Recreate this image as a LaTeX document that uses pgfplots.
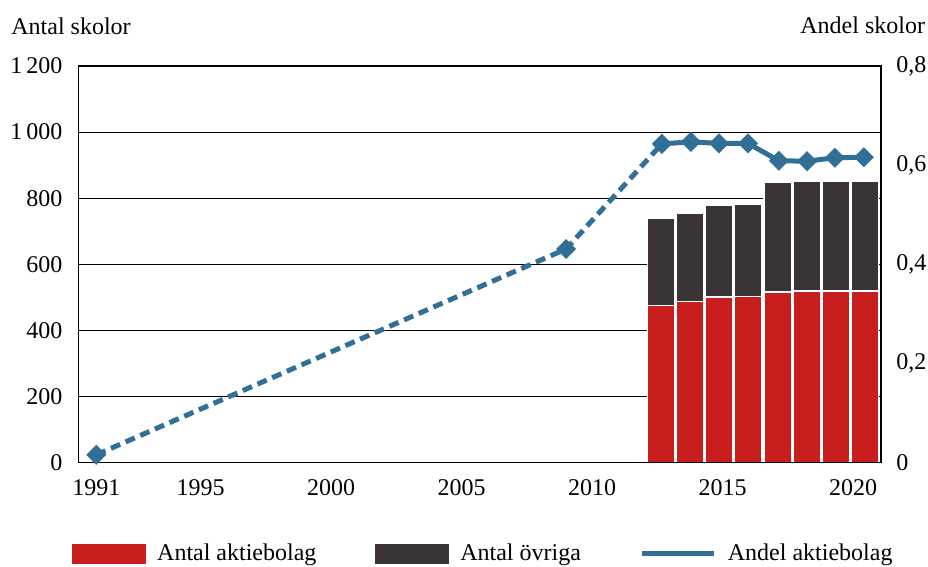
\documentclass[border=0pt]{standalone}
\usepackage{fontspec}
\setmainfont{Liberation Serif}
\usepackage{pgfplots}
\pgfplotsset{compat=1.18}
\definecolor{abred}{RGB}{200,30,30}
\definecolor{ovdark}{RGB}{58,52,54}
\definecolor{lineblue}{RGB}{49,111,150}
\begin{document}
\begin{tikzpicture}[font=\fontsize{12}{14}\selectfont]
\useasboundingbox (-39.25pt,-52.15pt) rectangle (424.75pt,231.35pt);
\begin{axis}[
  scale only axis, width=401.25pt, height=198.35pt,
  xmin=1993, xmax=2020.55, ymin=0, ymax=1200,
  xtick=\empty,
  ytick={0,200,400,600,800,1000,1200},
  ymajorgrids, grid style={black, line width=0.5pt},
  major tick length=0pt,
  axis line style={black, line width=0.6pt},
  yticklabel style={xshift=-4.5pt, font=\fontsize{12}{14}\selectfont},
  /pgf/number format/assume math mode=true,
  /pgf/number format/1000 sep={\,},
  ybar stacked, bar width=13.75pt,
]
\addplot[fill=abred, draw=white, line width=0.75pt] coordinates {
 (2013,475) (2014,488) (2015,501) (2016,503) (2017,516) (2018,519) (2019,520) (2020,520)};
\addplot[fill=ovdark, draw=white, line width=0.75pt] coordinates {
 (2013,265) (2014,266) (2015,278) (2016,280) (2017,332) (2018,331) (2019,330) (2020,330)};
\end{axis}
\begin{axis}[
  scale only axis, width=401.25pt, height=198.35pt,
  xmin=1990.318, xmax=2021.065, ymin=0, ymax=0.8,
  axis y line*=right, axis x line*=bottom,
  xtick={1991,1995,2000,2005,2010,2015,2020},
  xticklabel style={yshift=-4.9pt, font=\fontsize{12}{14}\selectfont},
  ytick={0,0.2,0.4,0.6,0.8},
  yticklabel style={xshift=4.2pt, font=\fontsize{12}{14}\selectfont},
  /pgf/number format/assume math mode=true,
  /pgf/number format/use comma,
  /pgf/number format/1000 sep={},
  major tick length=0pt,
  axis line style={black, line width=0.6pt},
  legend style={at={(axis description cs:-0.0156,-0.2289)}, anchor=west,
    draw=none, fill=none, legend columns=3, font=\fontsize{12}{14}\selectfont,
    /tikz/every odd column/.append style={column sep=3.5pt},
    /tikz/every even column/.append style={column sep=27.5pt},
    cells={anchor=west}},
]
\addlegendimage{legend image code/.code={\fill[abred] (0pt,-4.75pt) rectangle (36.5pt,4.75pt);}}
\addlegendentry{Antal aktiebolag}
\addlegendimage{legend image code/.code={\fill[ovdark] (0pt,-4.75pt) rectangle (36.5pt,4.75pt);}}
\addlegendentry{Antal övriga}
\addplot[lineblue, line width=2.5pt, dash pattern=on 5pt off 3pt, mark=square*, mark size=2.3pt,
  mark options={rotate=45, solid}, mark indices={1,2}, forget plot] coordinates {
 (1991,0.016) (2009,0.431) (2012.67,0.643)};
\addplot[lineblue, line width=2.5pt, mark=square*, mark size=2.3pt,
  mark options={rotate=45}, forget plot] coordinates {
 (2012.67,0.643) (2013.78,0.647) (2014.86,0.644) (2015.97,0.644) (2017.15,0.609) (2018.23,0.608) (2019.30,0.615) (2020.41,0.616)};
\addlegendimage{legend image code/.code={\draw[lineblue, line width=2.5pt] (0pt,0pt) -- (36pt,0pt);}}
\addlegendentry{Andel aktiebolag}
\end{axis}
\node[anchor=base west, inner sep=0pt] at (-33.75pt,213.85pt) {Antal skolor};
\node[anchor=base west, inner sep=0pt] at (360.75pt,214.35pt) {Andel skolor};
\end{tikzpicture}
\end{document}
